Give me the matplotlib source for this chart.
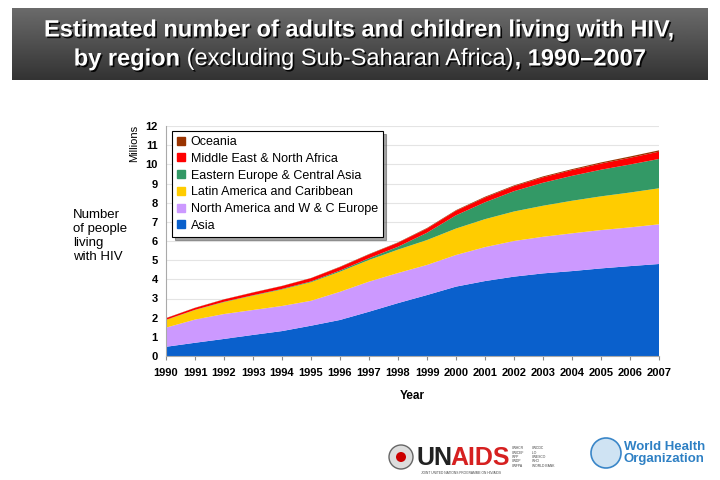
import numpy as np
import matplotlib
matplotlib.use("Agg")
import matplotlib.pyplot as plt
import matplotlib.patches as mpatches
import matplotlib.patheffects as pe

# Data (millions)
years = list(range(1990, 2008))
asia = [0.48, 0.69, 0.89, 1.10, 1.30, 1.58, 1.88, 2.31, 2.76, 3.18, 3.62, 3.91, 4.14, 4.31, 4.43, 4.57, 4.69, 4.80]
north_am_eu = [1.00, 1.21, 1.30, 1.30, 1.31, 1.30, 1.47, 1.57, 1.57, 1.57, 1.65, 1.77, 1.86, 1.91, 1.97, 2.00, 2.02, 2.07]
latin_am = [0.40, 0.50, 0.62, 0.75, 0.86, 0.97, 1.05, 1.13, 1.22, 1.30, 1.38, 1.46, 1.54, 1.62, 1.70, 1.76, 1.82, 1.88]
east_eu = [0.01, 0.01, 0.02, 0.02, 0.03, 0.04, 0.06, 0.09, 0.15, 0.38, 0.69, 0.88, 1.06, 1.20, 1.30, 1.39, 1.46, 1.53]
mena = [0.08, 0.10, 0.12, 0.14, 0.15, 0.17, 0.18, 0.20, 0.21, 0.22, 0.24, 0.25, 0.26, 0.28, 0.30, 0.32, 0.35, 0.38]
oceania = [0.01, 0.01, 0.01, 0.01, 0.01, 0.01, 0.02, 0.02, 0.02, 0.03, 0.03, 0.04, 0.04, 0.05, 0.05, 0.06, 0.07, 0.07]

labels = ["Asia", "North America and W & C Europe", "Latin America and Caribbean",
          "Eastern Europe & Central Asia", "Middle East & North Africa", "Oceania"]
colors = ["#0a60cc", "#cc99ff", "#ffcc00", "#339966", "#ff0000", "#993300"]

plt.rcParams["font.family"] = ["Liberation Sans", "DejaVu Sans"]

fig = plt.figure(figsize=(7.2, 4.8), dpi=100)

# Title banner with gradient
bax = fig.add_axes([12 / 720, 1 - 80 / 480, 696 / 720, 72 / 480])
grad = np.linspace(0.42, 0.2, 100).reshape(-1, 1)
bax.imshow(grad, aspect="auto", cmap="gray", vmin=0, vmax=1, extent=[0, 1, 0, 1])
bax.set_xlim(0, 1)
bax.set_ylim(0, 1)
bax.axis("off")
shadow = [pe.withSimplePatchShadow(offset=(1.2, -1.2), shadow_rgbFace="black", alpha=0.9)]
fig.text(0.5, 1 - 30 / 480, "Estimated number of adults and children living with HIV,",
         ha="center", va="center", color="white", fontsize=17, fontweight="bold",
         path_effects=shadow)

# second title line: mixed bold / normal pieces
pieces = [("by region ", "bold"), ("(excluding Sub-Saharan Africa)", "normal"), (", 1990–2007", "bold")]
renderer = fig.canvas.get_renderer()
texts = []
widths = []
for s, w in pieces:
    t = fig.text(0, 1 - 59 / 480, s, ha="left", va="center", color="white", fontsize=17,
                 fontweight=w, path_effects=shadow)
    texts.append(t)
    widths.append(t.get_window_extent(renderer).width)
x0 = (720 - sum(widths)) / 2
for t, wd in zip(texts, widths):
    t.set_x(x0 / 720)
    x0 += wd

# Chart
ax = fig.add_axes([166 / 720, 1 - 356 / 480, 493 / 720, 230 / 480])
series = [asia, north_am_eu, latin_am, east_eu, mena, oceania]
ax.stackplot(years, *series, colors=colors, labels=labels, linewidth=0)
ax.set_xlim(1990, 2007)
ax.set_ylim(0, 12)
ax.set_yticks(range(0, 13))
ax.set_xticks(years)
ax.set_xticklabels([str(y) for y in years], fontsize=8, fontweight="bold")
ax.set_yticklabels([str(v) for v in range(0, 13)], fontsize=8, fontweight="bold")
ax.yaxis.grid(True, color="#e4e4e4", linewidth=0.8)
ax.set_axisbelow(True)
for side in ["top", "right"]:
    ax.spines[side].set_visible(False)
ax.spines["left"].set_color("#aaaaaa")
ax.spines["bottom"].set_color("#aaaaaa")
ax.tick_params(axis="y", length=0, pad=6)
ax.tick_params(axis="x", length=3, color="#888888", pad=6)
ax.set_xlabel("Year", fontsize=8.5, fontweight="bold", labelpad=8)

# Legend (reverse order, with shadow)
handles = [mpatches.Patch(color=c) for c in colors][::-1]
leg = ax.legend(handles, labels[::-1], loc="upper left", bbox_to_anchor=(6 / 493, 1 - 5 / 230),
                borderaxespad=0, fontsize=9, frameon=True, fancybox=False, shadow=True,
                handlelength=0.6, handleheight=0.6, handletextpad=0.5,
                labelspacing=0.38, borderpad=0.4, edgecolor="black")
leg.get_frame().set_linewidth(0.8)

fig.text(134 / 720, 1 - 143 / 480, "Millions", rotation=90, ha="center", va="center", fontsize=8)
fig.text(73 / 720, 1 - 236 / 480, "Number\nof people\nliving\nwith HIV", ha="left", va="center",
         fontsize=9.5, linespacing=1.2)

# Logos (text approximations)
lax = fig.add_axes([0, 0, 1, 1], facecolor="none")
lax.set_xlim(0, 720)
lax.set_ylim(480, 0)
lax.axis("off")
lax.add_patch(mpatches.Circle((401, 457), 12, facecolor="#dddddd", edgecolor="#666666", lw=1))
lax.add_patch(mpatches.Circle((401, 457), 5, facecolor="#cc0000", edgecolor="none"))
lax.text(417, 458, "UN", fontsize=18, color="#222222", va="center", ha="left", fontweight="bold")
lax.text(450, 458, "AIDS", fontsize=18, color="#d62020", va="center", ha="left", fontweight="bold")
lax.text(421, 473, "JOINT UNITED NATIONS PROGRAMME ON HIV/AIDS", fontsize=2.3, color="#444444", va="center")
lax.text(512, 457, "UNHCR\nUNICEF\nWFP\nUNDP\nUNFPA", fontsize=2.4, color="#444444", va="center", linespacing=1.1)
lax.text(532, 457, "UNODC\nILO\nUNESCO\nWHO\nWORLD BANK", fontsize=2.4, color="#444444", va="center", linespacing=1.1)
lax.add_patch(mpatches.Circle((606, 453), 15, facecolor="#cfe3f3", edgecolor="#3a86c8", lw=1.2))
lax.text(624, 453, "World Health\nOrganization", fontsize=9.5, color="#2e80c4", fontweight="bold",
         va="center", ha="left", linespacing=1.0)

fig.savefig("out.png", dpi=100)
